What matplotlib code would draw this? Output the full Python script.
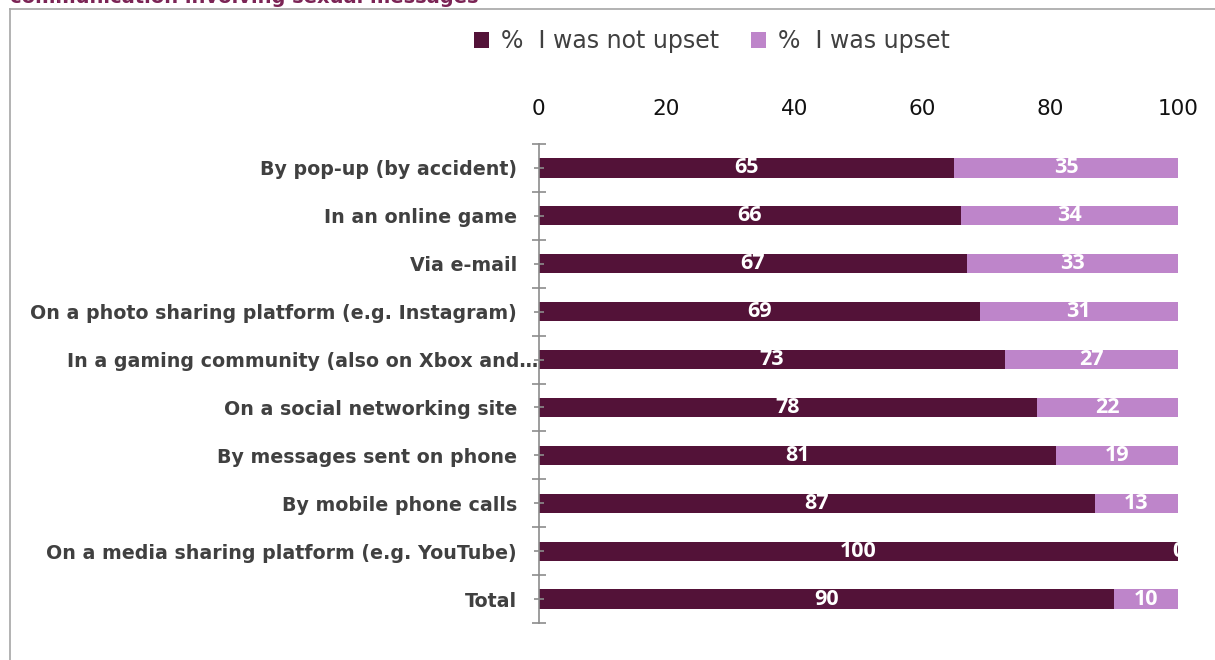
import matplotlib
matplotlib.use("Agg")
import matplotlib.pyplot as plt
from matplotlib.lines import Line2D
from matplotlib.patches import Patch
from matplotlib.transforms import ScaledTranslation
import numpy as np

categories = [
    "By pop-up (by accident)",
    "In an online game",
    "Via e-mail",
    "On a photo sharing platform (e.g. Instagram)",
    "In a gaming community (also on Xbox and\u2026",
    "On a social networking site",
    "By messages sent on phone",
    "By mobile phone calls",
    "On a media sharing platform (e.g. YouTube)",
    "Total",
]
not_upset = [65, 66, 67, 69, 73, 78, 81, 87, 100, 90]
upset = [35, 34, 33, 31, 27, 22, 19, 13, 0, 10]
series_names = ["%  I was not upset", "%  I was upset"]
x_ticks = [0, 20, 40, 60, 80, 100]
title = "communication involving sexual messages"

c_dark = "#531238"
c_light = "#BE85CA"

fig = plt.figure(figsize=(12.15, 6.6), dpi=100)
W, H = 1215, 660
ax = fig.add_axes([538.5 / W, 1 - 623 / H, (1178 - 538.5) / W, (623 - 144) / H])

y = np.arange(len(categories))
h = 0.4
ax.barh(y, not_upset, height=h, color=c_dark, edgecolor="none")
ax.barh(y, upset, left=not_upset, height=h, color=c_light, edgecolor="none")

for i in range(len(categories)):
    a, b = not_upset[i], upset[i]
    ax.text(a / 2, y[i], str(a), ha="center", va="center", color="white",
            fontsize=15.5, fontweight="bold", family="Open Sans", clip_on=True)
    ax.text(a + b / 2, y[i], str(b), ha="center", va="center", color="white",
            fontsize=15.5, fontweight="bold", family="Open Sans", clip_on=True)

ax.set_xlim(0, 100)
ax.set_ylim(len(categories) - 0.5, -0.5)
ax.xaxis.tick_top()
ax.set_xticks(x_ticks)
ax.set_xticklabels([str(v) for v in x_ticks], fontsize=15.5, color="#111111")
ax.tick_params(axis="x", length=0, pad=18)

ax.set_yticks(y)
ax.set_yticklabels(categories, fontsize=13.7, fontweight="bold", color="#404040")
ax.set_yticks(np.arange(-0.5, len(categories), 1), minor=True)
ax.tick_params(axis="y", which="major", direction="inout", length=7.2, width=1.2,
               color="#8C8C8C", pad=12)
ax.tick_params(axis="y", which="minor", direction="inout", length=10, width=1.2,
               color="#8C8C8C")

for lab in ax.get_yticklabels():
    if lab.get_text().startswith("In a gaming"):
        lab.set_transform(lab.get_transform() + ScaledTranslation(21 / 100, 0, fig.dpi_scale_trans))

for s in ["top", "right", "bottom"]:
    ax.spines[s].set_visible(False)
ax.spines["left"].set_color("#8C8C8C")
ax.spines["left"].set_linewidth(1.2)

handles = [Patch(facecolor=c_dark), Patch(facecolor=c_light)]
fig.legend(handles, series_names, loc="center", bbox_to_anchor=(712 / W, 1 - 41 / H),
           ncol=2, frameon=False, fontsize=17, handlelength=0.65, handleheight=0.65,
           handletextpad=0.5, columnspacing=1.35,
           labelcolor="#404040")

# frame lines
fig.add_artist(Line2D([10 / W, 10 / W], [0, 1 - 9 / H], transform=fig.transFigure,
                      color="#A6A6A6", linewidth=1.2))
fig.add_artist(Line2D([10 / W, 1], [1 - 9 / H, 1 - 9 / H], transform=fig.transFigure,
                      color="#A6A6A6", linewidth=1.2))

fig.text(10 / W, 1 - 3 / H, title, ha="left", va="baseline", fontsize=14,
         fontweight="bold", color="#7B2455")

fig.savefig("out.png", dpi=100)
